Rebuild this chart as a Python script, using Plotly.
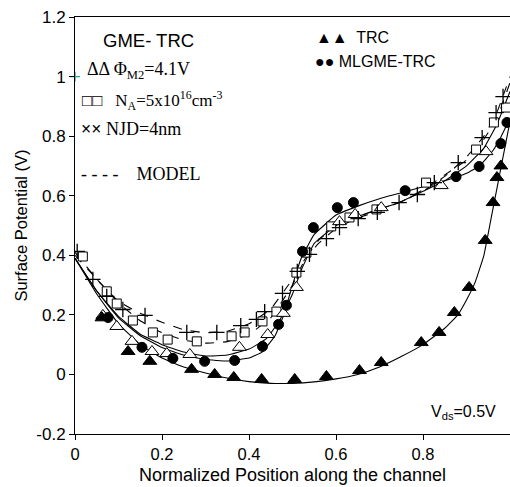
import plotly.graph_objects as go

# ---- data ----
trc_x = [0.062, 0.122, 0.172, 0.268, 0.321, 0.365, 0.429, 0.505, 0.578, 0.654, 0.704, 0.796, 0.837, 0.872, 0.906, 0.943, 0.961, 0.970, 0.979]
trc_y = [0.19, 0.077, 0.044, 0.017, 0.0, -0.01, -0.017, -0.017, -0.007, 0.013, 0.04, 0.107, 0.141, 0.208, 0.292, 0.45, 0.577, 0.661, 0.70]

ml_x = [0.076, 0.154, 0.225, 0.298, 0.367, 0.431, 0.468, 0.486, 0.523, 0.548, 0.603, 0.640, 0.759, 0.876, 0.929, 0.979, 0.993]
ml_y = [0.191, 0.091, 0.054, 0.044, 0.047, 0.094, 0.168, 0.232, 0.413, 0.493, 0.56, 0.577, 0.617, 0.664, 0.698, 0.775, 0.846]

phi_x = [0.064, 0.096, 0.131, 0.177, 0.211, 0.264, 0.378, 0.443, 0.479, 0.509, 0.608, 0.644, 0.704, 0.842, 0.945]
phi_y = [0.198, 0.161, 0.111, 0.077, 0.07, 0.067, 0.091, 0.134, 0.205, 0.292, 0.513, 0.537, 0.56, 0.634, 0.748]

na_x = [0.018, 0.073, 0.096, 0.133, 0.179, 0.213, 0.280, 0.360, 0.390, 0.431, 0.463, 0.509, 0.532, 0.589, 0.631, 0.693, 0.807, 0.922, 0.963, 0.991]
na_y = [0.396, 0.279, 0.238, 0.181, 0.141, 0.117, 0.111, 0.128, 0.141, 0.178, 0.211, 0.342, 0.409, 0.497, 0.527, 0.554, 0.644, 0.755, 0.846, 0.896]

njd_x = [0.005, 0.041, 0.073, 0.110, 0.161, 0.257, 0.326, 0.381, 0.417, 0.436, 0.477, 0.511, 0.539, 0.578, 0.608, 0.651, 0.695, 0.745, 0.787, 0.826, 0.881, 0.936, 0.968, 0.984]
njd_y = [0.413, 0.319, 0.262, 0.218, 0.198, 0.141, 0.141, 0.164, 0.185, 0.211, 0.272, 0.346, 0.403, 0.456, 0.493, 0.523, 0.544, 0.577, 0.604, 0.644, 0.711, 0.795, 0.879, 0.933]

# model curves
trc_mx = [0, 0.05, 0.1, 0.15, 0.2, 0.25, 0.3, 0.35, 0.4, 0.45, 0.5, 0.55, 0.6, 0.65, 0.7, 0.75, 0.8, 0.85, 0.88, 0.9, 0.92, 0.94, 0.96, 0.98, 1.0]
trc_my = [0.39, 0.27, 0.17, 0.10, 0.055, 0.025, 0.005, -0.012, -0.024, -0.03, -0.03, -0.025, -0.015, 0.0, 0.025, 0.06, 0.10, 0.155, 0.2, 0.25, 0.31, 0.40, 0.55, 0.70, 0.85]

ml_mx = [0, 0.05, 0.1, 0.15, 0.2, 0.25, 0.3, 0.35, 0.4, 0.43, 0.46, 0.48, 0.5, 0.52, 0.55, 0.6, 0.65, 0.7, 0.75, 0.8, 0.85, 0.9, 0.93, 0.96, 0.98, 1.0]
ml_my = [0.39, 0.28, 0.19, 0.13, 0.09, 0.065, 0.05, 0.045, 0.055, 0.075, 0.13, 0.2, 0.30, 0.39, 0.47, 0.535, 0.565, 0.59, 0.61, 0.63, 0.65, 0.675, 0.70, 0.75, 0.80, 0.86]

phi_mx = [0, 0.05, 0.1, 0.15, 0.2, 0.25, 0.3, 0.35, 0.4, 0.44, 0.47, 0.5, 0.52, 0.55, 0.6, 0.65, 0.7, 0.75, 0.8, 0.85, 0.9, 0.94, 0.97, 1.0]
phi_my = [0.39, 0.28, 0.195, 0.135, 0.10, 0.075, 0.062, 0.065, 0.085, 0.12, 0.18, 0.27, 0.35, 0.44, 0.50, 0.53, 0.555, 0.58, 0.615, 0.65, 0.70, 0.76, 0.84, 0.95]

na_mx = [0, 0.05, 0.1, 0.15, 0.2, 0.25, 0.3, 0.35, 0.4, 0.45, 0.5, 0.53, 0.56, 0.6, 0.65, 0.7, 0.75, 0.8, 0.85, 0.9, 0.94, 0.97, 1.0]
na_my = [0.40, 0.32, 0.24, 0.18, 0.14, 0.115, 0.105, 0.11, 0.135, 0.19, 0.30, 0.39, 0.45, 0.50, 0.53, 0.555, 0.58, 0.62, 0.67, 0.72, 0.79, 0.86, 0.98]

njd_mx = [0, 0.05, 0.1, 0.15, 0.2, 0.25, 0.3, 0.35, 0.4, 0.45, 0.5, 0.53, 0.56, 0.6, 0.65, 0.7, 0.75, 0.8, 0.85, 0.9, 0.94, 0.97, 1.0]
njd_my = [0.41, 0.32, 0.245, 0.205, 0.175, 0.15, 0.14, 0.145, 0.17, 0.22, 0.32, 0.39, 0.44, 0.49, 0.525, 0.55, 0.58, 0.615, 0.665, 0.73, 0.80, 0.88, 1.0]

x_ticks = [0, 0.2, 0.4, 0.6, 0.8, 1]
x_ticklabels = ["0", "0.2", "0.4", "0.6", "0.8", "1"]
y_ticks = [-0.2, 0, 0.2, 0.4, 0.6, 0.8, 1, 1.2]
y_ticklabels = ["-0.2", "0", "0.2", "0.4", "0.6", "0.8", "1", "1.2"]

fig = go.Figure()

def line(x, y, dash):
    fig.add_trace(go.Scatter(x=x, y=y, mode="lines", line=dict(color="black", width=1.1, dash=dash, shape="spline", smoothing=0.3), showlegend=False, hoverinfo="skip"))

line(trc_mx, trc_my, "solid")
line(ml_mx, ml_my, "solid")
line(phi_mx, phi_my, "solid")
line(na_mx, na_my, "dash")
line(njd_mx, njd_my, "dash")

def pts(x, y, symbol, size, fill, lw=1.0):
    fig.add_trace(go.Scatter(x=x, y=y, mode="markers", showlegend=False, hoverinfo="skip",
                             marker=dict(symbol=symbol, size=size, color=fill, line=dict(color="black", width=lw))))

pts(na_x, na_y, "square", 9, "white")
pts(phi_x, phi_y, "triangle-up", 12, "white")
pts(njd_x, njd_y, "cross-thin", 11, "black", 1.3)
pts(trc_x, trc_y, "triangle-up", 12, "black")
pts(ml_x, ml_y, "circle", 10, "black")

# small teal mark near y=1 on the axis
fig.add_trace(go.Scatter(x=[0], y=[1], mode="markers", showlegend=False, hoverinfo="skip", cliponaxis=False,
                         marker=dict(symbol="cross-thin", size=7, color="#2a9d9d", line=dict(color="#2a9d9d", width=1.3))))

serif = "Liberation Serif, Times New Roman, serif"
sans = "Liberation Sans, Arial, sans-serif"

def ann(text, x, y, size, family, xanchor="left"):
    fig.add_annotation(text=text, x=x, y=y, xref="paper", yref="paper", showarrow=False,
                       xanchor=xanchor, yanchor="middle", font=dict(size=size, family=family, color="black"))

W0, W1 = 75, 510
T0, T1 = 17, 434
def px(x): return (x - W0) / (W1 - W0)
def py(y): return (T1 - y) / (T1 - T0)

ann("GME- TRC", px(101), py(40), 18.5, sans)
ann("ΔΔ Φ<sub>M2</sub>=4.1V", px(85), py(71), 18, serif)
ann("□□   N<sub>A</sub>=5x10<sup>16</sup>cm<sup>-3</sup>", px(80), py(101), 17, serif)
ann("<b>××</b> NJD=4nm", px(79), py(129), 18, serif)
ann("- - - -    MODEL", px(79), py(174), 18, serif)
ann("▲▲  TRC", px(314), py(37), 16, sans)
ann("●● MLGME-TRC", px(313), py(61), 16, sans)
ann("V<sub>ds</sub>=0.5V", px(429), py(412), 16, sans)

fig.update_layout(
    width=510, height=487,
    margin=dict(l=75, r=0, t=17, b=53),
    paper_bgcolor="white", plot_bgcolor="white",
    font=dict(family=sans, size=16, color="black"),
    xaxis=dict(range=[0, 1], tickvals=x_ticks, ticktext=x_ticklabels, showgrid=False, zeroline=False,
               showline=True, linecolor="black", linewidth=1, mirror=True, ticks="outside", ticklen=5,
               tickcolor="black", tickfont=dict(size=16.5, family=sans), automargin=False,
               title=dict(text="Normalized Position along the channel", font=dict(size=18, family=sans), standoff=6)),
    yaxis=dict(range=[-0.2, 1.2], tickvals=y_ticks, ticktext=y_ticklabels, showgrid=False, zeroline=False,
               showline=True, linecolor="black", linewidth=1, ticks="outside", ticklen=5,
               tickcolor="black", tickfont=dict(size=17, family=sans), automargin=False,
               title=dict(text="Surface Potential (V)", font=dict(size=16.5, family=sans), standoff=4)),
)

fig.write_html("out.html", config={"displayModeBar": False},
               post_script="document.body.style.margin='0px';document.body.style.padding='0px';")
